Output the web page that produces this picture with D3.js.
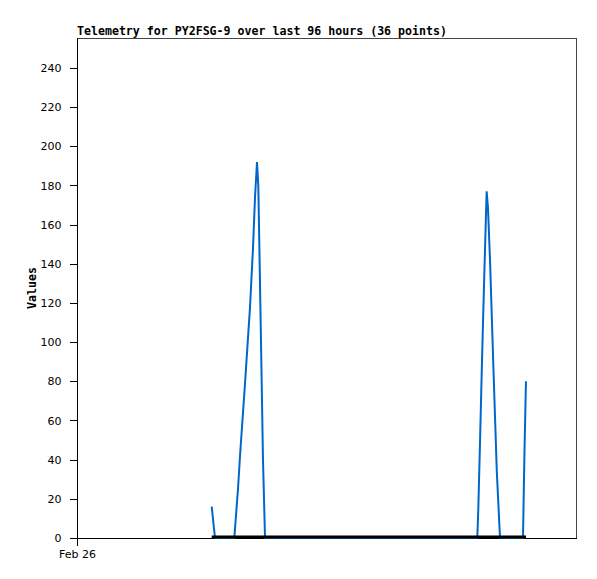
<!DOCTYPE html>
<html>
<head>
<meta charset="utf-8">
<script src="https://cdn.jsdelivr.net/npm/d3@7"></script>
<style>
  body { margin: 0; background: #fff; }
  svg { display: block; }
  .tick text { font-family: "DejaVu Sans", sans-serif; font-size: 11px; fill: #000; }
</style>
</head>
<body>
<svg id="chart" width="597" height="579"></svg>
<script>
const width = 597
const height = 579

const title = 'Telemetry for PY2FSG-9 over last 96 hours (36 points)'
const yLabel = 'Values'

// hours since Feb 26 00:00, and the telemetry value at that time
const hours = [25.86, 26.5, 30.2, 30.91, 31.3, 32.26, 33.22, 33.79, 34.18, 34.56, 34.81,
  35.33, 35.71, 36.1, 76.86, 77.05, 77.38, 77.7, 78.0, 78.65, 78.9, 79.3, 79.62,
  79.95, 80.27, 80.6, 81.22, 85.63, 85.9, 86.2]
const values = [16, 0, 0, 25, 42, 79, 118, 148, 174, 192, 180,
  100, 40, 0, 0, 15, 49, 84, 115, 177, 169, 142, 115,
  87, 61, 34, 0, 0, 42, 80]

const yTicks = d3.range(0, 241, 20)
const xTickLabels = ['Feb 26']
const xTickHours = [0]

const margin = { top: 38, right: 20, bottom: 41, left: 77 }

const x = d3.scaleLinear()
  .domain([0, 96])
  .range([margin.left, width - margin.right])

const y = d3.scaleLinear()
  .domain([0, 255.3])
  .range([height - margin.bottom, margin.top])

const svg = d3.select('svg#chart')

// frame: top and right edges
svg.append('path')
  .attr('d', `M${x(0)},${y.range()[1] + 0.5}H${x(96) - 0.5}V${y(0)}`)
  .attr('fill', 'none')
  .attr('stroke', '#444')
  .attr('stroke-width', 1)
  .attr('shape-rendering', 'crispEdges')

const yAxis = svg.append('g')
  .attr('transform', `translate(${margin.left + 0.5},0)`)
  .call(d3.axisLeft(y).tickValues(yTicks).tickSize(8).tickPadding(8).tickFormat(d3.format('d')))
yAxis.select('.domain').attr('d', `M0,${y(0)}V${y.range()[1]}`)
yAxis.selectAll('line, path').attr('stroke', '#000').attr('shape-rendering', 'crispEdges')

const xAxis = svg.append('g')
  .attr('transform', `translate(0,${y(0) + 0.5})`)
  .call(d3.axisBottom(x).tickValues(xTickHours).tickSize(7).tickPadding(5)
    .tickFormat((d, i) => xTickLabels[i]))
xAxis.select('.domain').attr('d', `M${x(0)},0H${x(96)}`)
xAxis.selectAll('line, path').attr('stroke', '#000').attr('shape-rendering', 'crispEdges')

const points = hours.map((h, i) => [h, values[i]])

const line = d3.line()
  .x(d => x(d[0]))
  .y(d => y(d[1]))

svg.append('path')
  .datum(points)
  .attr('d', line)
  .attr('fill', 'none')
  .attr('stroke', '#0066cc')
  .attr('stroke-width', 2)

// zero baseline over the sampled span
svg.append('path')
  .datum([[hours[0], 0], [hours[hours.length - 1], 0]])
  .attr('d', line)
  .attr('fill', 'none')
  .attr('stroke', '#000')
  .attr('stroke-width', 3)
  .attr('transform', 'translate(0,-1)')

svg.append('text')
  .attr('x', margin.left)
  .attr('y', 35)
  .attr('font-family', '"DejaVu Sans Mono", monospace')
  .attr('font-weight', 'bold')
  .attr('font-size', 11.6)
  .text(title)

svg.append('text')
  .attr('transform', `translate(36,${(y(0) + y.range()[1]) / 2}) rotate(-90)`)
  .attr('text-anchor', 'middle')
  .attr('font-family', '"DejaVu Sans Mono", monospace')
  .attr('font-weight', 'bold')
  .attr('font-size', 11.6)
  .text(yLabel)
</script>
</body>
</html>
